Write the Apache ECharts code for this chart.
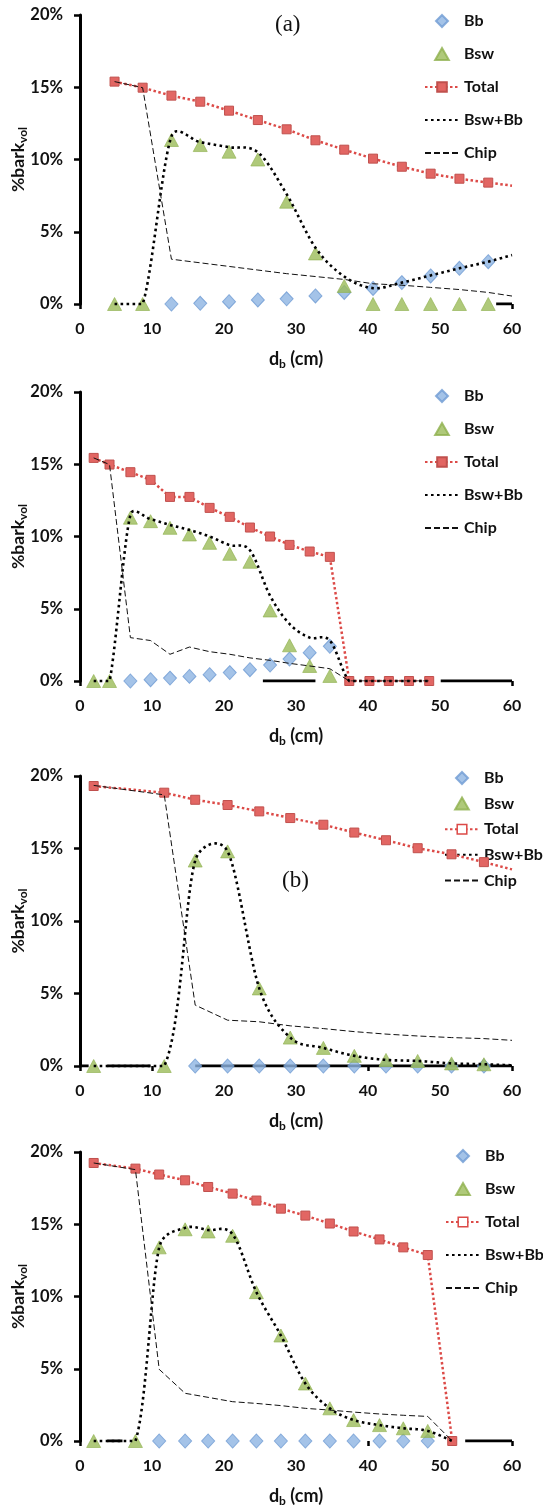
<!DOCTYPE html>
<html>
<head>
<meta charset="utf-8">
<script src="https://cdn.jsdelivr.net/npm/echarts@6/dist/echarts.min.js"></script>
<style>
  html, body { margin: 0; padding: 0; background: #fff; }
  #chart { width: 543px; height: 1506px; }
</style>
</head>
<body>
<div id="chart"></div>
<script>
// ---- Panel 1 : (a), first tree ----
const d1     = [4.8, 8.7, 12.7, 16.7, 20.7, 24.7, 28.7, 32.7, 36.7, 40.7, 44.7, 48.7, 52.7, 56.7];
const bb1    = [null, null, 0, 0.05, 0.16, 0.28, 0.36, 0.56, 0.8, 1.08, 1.48, 1.94, 2.47, 2.93];
const bsw1   = [0, 0, 11.35, 11.0, 10.54, 10.0, 7.08, 3.5, 1.25, 0, 0, 0, 0, 0];
const total1 = [15.39, 14.97, 14.42, 14.0, 13.38, 12.73, 12.09, 11.33, 10.68, 10.06, 9.5, 9.02, 8.67, 8.4];
const sum1   = [0, 0, 11.6, 11.2, 10.85, 10.5, 7.6, 3.9, 1.9, 1.1, 1.48, 1.98, 2.47, 2.93];
const chip1  = [15.39, 14.97, 3.1, 2.85, 2.6, 2.35, 2.1, 1.9, 1.7, 1.4, 1.3, 1.15, 1.0, 0.8];
const end1   = [8.19, 3.39, 0.55];          // Total, Bsw+Bb, Chip at 60 cm
const base1  = [[57.8, 60]];                // visible stretches of the 0 % baseline

// ---- Panel 2 : (a), second tree ----
const d2     = [1.9, 4.1, 7.0, 9.8, 12.5, 15.2, 18.0, 20.8, 23.6, 26.4, 29.1, 31.9, 34.7, 37.4, 40.2, 42.9, 45.7, 48.5];
const bb2    = [null, null, 0, 0.09, 0.2, 0.32, 0.44, 0.58, 0.78, 1.1, 1.52, 1.96, 2.4, null, null, null, null, null];
const bsw2   = [0, 0, 11.3, 11.06, 10.6, 10.14, 9.56, 8.8, 8.25, 4.88, 2.47, 1.04, 0.35, null, null, null, null, null];
const total2 = [15.44, 14.98, 14.45, 13.92, 12.74, 12.74, 11.98, 11.36, 10.62, 10.0, 9.42, 8.96, 8.59, 0, 0, 0, 0, 0];
const sum2   = [0, 0, 11.5, 11.2, 10.8, 10.45, 10.0, 9.4, 9.05, 5.9, 3.95, 3.0, 2.8, 0, 0, 0, 0, 0];
const chip2  = [15.44, 14.98, 3.0, 2.8, 1.85, 2.35, 2.03, 1.85, 1.6, 1.43, 1.22, 1.04, 0.85, 0, 0, 0, 0, 0];
const end2   = [null, null, null];
const base2  = [[25.4, 32.7], [50.1, 60]];

// ---- Panel 3 : (b), first tree ----
const d3     = [1.9, 11.7, 16.0, 20.5, 24.9, 29.2, 33.8, 38.1, 42.5, 46.9, 51.6, 56.1];
const bb3    = [null, null, 0, 0, 0, 0, 0, 0, 0, 0, 0, 0];
const bsw3   = [0, 0, 14.17, 14.8, 5.35, 1.96, 1.25, 0.7, 0.42, 0.35, 0.18, 0.12];
const total3 = [19.31, 18.85, 18.36, 18.0, 17.56, 17.1, 16.64, 16.1, 15.57, 15.02, 14.6, 14.06];
const sum3   = [0, 0, 14.17, 14.8, 5.35, 1.96, 1.25, 0.7, 0.42, 0.35, 0.18, 0.12];
const chip3  = [19.35, 18.7, 4.2, 3.16, 3.05, 2.77, 2.58, 2.37, 2.2, 2.07, 1.96, 1.89];
const end3   = [13.56, 0.05, 1.77];
const base3  = [[0, 1.2], [3.8, 9.8], [16.0, 60]];

// ---- Panel 4 : (b), second tree ----
const d4     = [1.9, 7.7, 11.0, 14.6, 17.8, 21.2, 24.5, 27.9, 31.3, 34.7, 38.0, 41.6, 44.9, 48.3, 51.7];
const bb4    = [null, null, 0, 0, 0, 0, 0, 0, 0, 0, 0, 0, 0, 0, null];
const bsw4   = [0, 0, 13.4, 14.65, 14.5, 14.2, 10.3, 7.3, 3.98, 2.26, 1.45, 1.1, 0.88, 0.7, null];
const total4 = [19.24, 18.85, 18.44, 18.04, 17.58, 17.12, 16.64, 16.08, 15.6, 15.05, 14.5, 13.95, 13.4, 12.87, 0];
const sum4   = [0, 0, 13.4, 14.75, 14.6, 14.3, 10.3, 7.3, 3.98, 2.26, 1.45, 1.1, 0.88, 0.7, 0];
const chip4  = [19.24, 18.78, 4.96, 3.3, 3.02, 2.72, 2.6, 2.45, 2.26, 2.14, 2.0, 1.87, 1.78, 1.7, 0];
const end4   = [null, null, null];
const base4  = [[3.8, 5.9], [53.5, 60]];

// ---- axes: 0-60 cm every 10, 0-20 % every 5 ----
const X_MIN = 0, X_MAX = 60, X_STEP = 10;
const Y_MIN = 0, Y_MAX = 20, Y_STEP = 5;
const xMarks = [[0, 60], [0, 60], [0, 10, 40, 60], [0, 40, 60]];   // tick marks left visible
const seriesNames = ['Bb', 'Bsw', 'Total', 'Bsw+Bb', 'Chip'];
const END_X = 60;

const panels = [
  { d: d1, bb: bb1, bsw: bsw1, total: total1, sum: sum1, chip: chip1, end: end1, base: base1 },
  { d: d2, bb: bb2, bsw: bsw2, total: total2, sum: sum2, chip: chip2, end: end2, base: base2 },
  { d: d3, bb: bb3, bsw: bsw3, total: total3, sum: sum3, chip: chip3, end: end3, base: base3 },
  { d: d4, bb: bb4, bsw: bsw4, total: total4, sum: sum4, chip: chip4, end: end4, base: base4 }
];

// layout of each panel (pixels)
const gridBoxes = [
  { top: 15,   height: 289 },
  { top: 392,  height: 289 },
  { top: 776,  height: 290 },
  { top: 1152, height: 289 }
];
const legendBoxes = [
  { left: 419, top: 8,    gap: 17, hollow: false },
  { left: 419, top: 383,  gap: 17, hollow: false },
  { left: 439, top: 765,  gap: 9.6, hollow: true },
  { left: 440, top: 1143, gap: 17, hollow: true }
];

const FONT = 'Lato, "Noto Sans", "Liberation Sans", sans-serif';
const RED = '#dc4a47';
const SQUARE_FILL = '#e26663';
const BLUE = '#8db4e2';
const GREEN = '#9bbb59';
const CLEAR = 'rgba(0,0,0,0)';
const DIAMOND_ICON = 'path://M6,0 L12,6 L6,12 L0,6 Z';
const TRIANGLE_ICON = 'path://M6,0 L12,10.5 L0,10.5 Z';

function pairs(xs, ys) {
  const out = [];
  xs.forEach((x, k) => { if (ys[k] !== null && ys[k] !== undefined) out.push([x, ys[k]]); });
  return out;
}

// Smoothed curve through the points (spreadsheet-style cubic spline):
// Catmull-Rom tangents, each control arm kept within half of its segment,
// and runs between equal values stay flat.
function splinePoints(pts, steps) {
  const out = [pts[0]];
  const arm = (from, vx, vy, segLen) => {
    const len = Math.hypot(vx, vy);
    const k = len > segLen * 0.5 && len > 0 ? (segLen * 0.5) / len : 1;
    return [from[0] + vx * k, from[1] + vy * k];
  };
  for (let i = 0; i < pts.length - 1; i++) {
    const p0 = pts[i - 1] || pts[i], p1 = pts[i], p2 = pts[i + 1], p3 = pts[i + 2] || pts[i + 1];
    const seg = Math.hypot(p2[0] - p1[0], p2[1] - p1[1]);
    const flat = Math.abs(p2[1] - p1[1]) < 0.01;
    const c1 = arm(p1, (p2[0] - p0[0]) / 6, flat ? 0 : (p2[1] - p0[1]) / 6, seg);
    const c2 = arm(p2, -(p3[0] - p1[0]) / 6, flat ? 0 : -(p3[1] - p1[1]) / 6, seg);
    for (let s = 1; s <= steps; s++) {
      const t = s / steps, u = 1 - t;
      const a = u * u * u, b = 3 * u * u * t, c = 3 * u * t * t, e = t * t * t;
      out.push([a * p1[0] + b * c1[0] + c * c2[0] + e * p2[0],
                a * p1[1] + b * c1[1] + c * c2[1] + e * p2[1]]);
    }
  }
  return out;
}

const SUM_DASH = [2.6, 3.4];

const grid = [], xAxis = [], yAxis = [], series = [], legend = [];

panels.forEach((p, i) => {
  const g = gridBoxes[i];
  grid.push({ left: 80, width: 432, top: g.top, height: g.height,
              containLabel: false, outerBoundsMode: 'none' });

  xAxis.push({
    gridIndex: i, type: 'value', min: X_MIN, max: X_MAX, interval: X_STEP,
    axisLine: { show: false },
    axisTick: { show: true, inside: false, length: 5, customValues: xMarks[i],
                lineStyle: { color: '#000', width: 2.5 } },
    axisLabel: { color: '#111', fontFamily: FONT, fontWeight: 'bold',
                 fontSize: 16, margin: 17, alignMinLabel: 'center', alignMaxLabel: 'center' },
    splitLine: { show: false },
    name: '{n|d}{s|b}{n| (cm)}',
    nameLocation: 'middle', nameGap: 44, nameMoveOverlap: false,
    nameTextStyle: {
      fontFamily: FONT, fontWeight: 'bold', color: '#111',
      rich: {
        n: { fontFamily: FONT, fontWeight: 'bold', fontSize: 18, color: '#111' },
        s: { fontFamily: FONT, fontWeight: 'bold', fontSize: 12, color: '#111', padding: [10, 0, 0, 0] }
      }
    }
  });

  yAxis.push({
    gridIndex: i, type: 'value', min: Y_MIN, max: Y_MAX, interval: Y_STEP,
    axisLine: { show: true, lineStyle: { color: '#000', width: 3 } },
    axisTick: { show: true, inside: false, length: 6, lineStyle: { color: '#000', width: 2.5 } },
    axisLabel: { formatter: '{value}%', color: '#111', fontFamily: FONT,
                 fontWeight: 'bold', fontSize: 16.5, margin: 17 },
    splitLine: { show: false },
    name: '{n|%bark}{s|vol}',
    nameLocation: 'middle', nameGap: 51, nameRotate: 90, nameMoveOverlap: false,
    nameTextStyle: {
      fontFamily: FONT, fontWeight: 'bold', color: '#111',
      rich: {
        n: { fontFamily: FONT, fontWeight: 'bold', fontSize: 17.5, color: '#111' },
        s: { fontFamily: FONT, fontWeight: 'bold', fontSize: 12, color: '#111', padding: [10, 0, 0, 0] }
      }
    }
  });

  // visible pieces of the thick 0 % baseline
  p.base.forEach((seg) => {
    series.push({
      type: 'line', xAxisIndex: i, yAxisIndex: i, silent: true, symbol: 'none',
      data: [[seg[0], 0], [seg[1], 0]],
      lineStyle: { color: '#000', width: 3 }, z: 1
    });
  });

  series.push({
    name: 'Bb', type: 'scatter', xAxisIndex: i, yAxisIndex: i,
    data: pairs(p.d, p.bb), symbol: 'diamond', symbolSize: [13, 14],
    itemStyle: { color: BLUE, borderColor: '#6f9bd3', borderWidth: 1 }, z: 3
  });
  series.push({
    name: 'Bsw', type: 'scatter', xAxisIndex: i, yAxisIndex: i,
    data: pairs(p.d, p.bsw), symbol: 'triangle', symbolSize: [14, 13],
    itemStyle: { color: GREEN, borderColor: '#8fb04e', borderWidth: 0.8 }, z: 3
  });

  const totalData = pairs(p.d, p.total);
  if (p.end[0] !== null) totalData.push({ value: [END_X, p.end[0]], symbol: 'none' });
  series.push({
    name: 'Total', type: 'line', xAxisIndex: i, yAxisIndex: i,
    data: totalData, symbol: 'rect', symbolSize: 9, showAllSymbol: true,
    lineStyle: { color: RED, width: 2.5, type: [2.5, 2.5] },
    itemStyle: { color: SQUARE_FILL, borderColor: '#c0504d', borderWidth: 1 }, z: 4
  });

  // Bsw+Bb: the legend entry comes from this line series, the curve itself
  // is drawn by the custom series below from the same points.
  const sumData = pairs(p.d, p.sum);
  if (p.end[1] !== null) sumData.push([END_X, p.end[1]]);
  series.push({
    name: 'Bsw+Bb', type: 'line', xAxisIndex: i, yAxisIndex: i,
    data: [], symbol: 'none',
    lineStyle: { color: '#000', width: 2.6, type: SUM_DASH },
    itemStyle: { color: CLEAR }, z: 5
  });
  series.push({
    name: 'Bsw+Bb', type: 'custom', xAxisIndex: i, yAxisIndex: i,
    coordinateSystem: 'cartesian2d', data: sumData, z: 5, silent: true,
    encode: { x: 0, y: 1 },
    renderItem: (params, api) => {
      if (params.dataIndex !== 0) return null;
      const px = sumData.map((v) => api.coord(v));
      return {
        type: 'polyline',
        shape: { points: splinePoints(px, 24) },
        style: { fill: null, stroke: '#000', lineWidth: 2.6, lineDash: SUM_DASH, lineCap: 'butt' }
      };
    }
  });

  const chipData = pairs(p.d, p.chip);
  if (p.end[2] !== null) chipData.push([END_X, p.end[2]]);
  series.push({
    name: 'Chip', type: 'line', xAxisIndex: i, yAxisIndex: i,
    data: chipData, symbol: 'none',
    lineStyle: { color: '#111', width: 1, type: [6, 3] },
    itemStyle: { color: CLEAR }, z: 6
  });

  const lb = legendBoxes[i];
  legend.push({
    orient: 'vertical', left: lb.left, top: lb.top, itemGap: lb.gap,
    itemWidth: 34, itemHeight: 12, selectedMode: false, symbolKeepAspect: true,
    textStyle: { fontFamily: FONT, fontWeight: 'bold', fontSize: 16, color: '#111', lineHeight: 16 },
    data: seriesNames.map((n) => {
      if (n === 'Bb') return { name: n, icon: DIAMOND_ICON };
      if (n === 'Bsw') return { name: n, icon: TRIANGLE_ICON };
      if (n === 'Total' && lb.hollow) {
        return { name: n, itemStyle: { color: '#fff', borderColor: RED, borderWidth: 1.5 } };
      }
      return { name: n };
    })
  });
});

const chart = echarts.init(document.getElementById('chart'), null, { renderer: 'canvas' });
chart.setOption({
  backgroundColor: '#fff',
  animation: false,
  grid, xAxis, yAxis, series, legend,
  graphic: [
    { type: 'text', left: 275, top: 13,
      style: { text: '(a)', font: '23px "Liberation Serif", "DejaVu Serif", serif', fill: '#111' } },
    { type: 'text', left: 282, top: 869,
      style: { text: '(b)', font: '23px "Liberation Serif", "DejaVu Serif", serif', fill: '#111' } }
  ]
});
</script>
</body>
</html>
